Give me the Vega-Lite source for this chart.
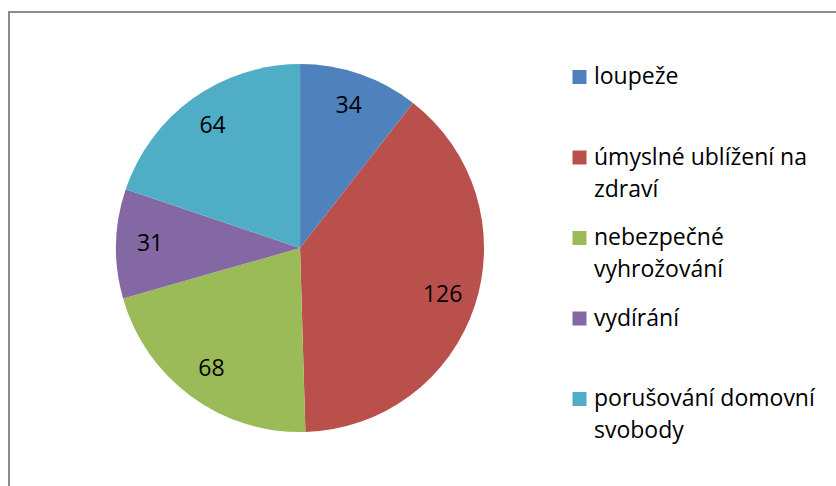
{
  "$schema": "https://vega.github.io/schema/vega-lite/v6.json",
  "width": 832,
  "height": 476,
  "autosize": {"type": "none"},
  "padding": {"left": 9, "top": 12, "right": 0, "bottom": 0},
  "background": "white",
  "config": {
    "view": {"stroke": "#8c8c8c", "strokeWidth": 2},
    "font": "Open Sans"
  },
  "data": {
    "values": [
      {"idx": 1, "cat": "loupeže", "label": "loupeže", "value": 34},
      {"idx": 2, "cat": "úmyslné ublížení na zdraví", "label": "úmyslné ublížení na\nzdraví", "value": 126},
      {"idx": 3, "cat": "nebezpečné vyhrožování", "label": "nebezpečné\nvyhrožování", "value": 68},
      {"idx": 4, "cat": "vydírání", "label": "vydírání", "value": 31},
      {"idx": 5, "cat": "porušování domovní svobody", "label": "porušování domovní\nsvobody", "value": 64}
    ]
  },
  "resolve": {"scale": {"y": "independent"}},
  "layer": [
    {
      "mark": {"type": "arc", "outerRadius": 184, "stroke": null},
      "encoding": {
        "theta": {"field": "value", "type": "quantitative", "stack": true},
        "order": {"field": "idx", "type": "quantitative"},
        "color": {
          "field": "cat", "type": "nominal", "legend": null,
          "scale": {
            "domain": ["loupeže", "úmyslné ublížení na zdraví", "nebezpečné vyhrožování", "vydírání", "porušování domovní svobody"],
            "range": ["#4F81BD", "#BA504C", "#9BBB59", "#8468A4", "#4FADC6"]
          }
        },
        "x": {"datum": 0.3498, "type": "quantitative", "scale": {"domain": [0, 1]}, "axis": null},
        "y": {"datum": 0.504, "type": "quantitative", "scale": {"domain": [0, 1]}, "axis": null}
      }
    },
    {
      "mark": {"type": "text", "radius": 150, "fontSize": 23, "color": "black"},
      "encoding": {
        "theta": {"field": "value", "type": "quantitative", "stack": true},
        "order": {"field": "idx", "type": "quantitative"},
        "text": {"field": "value", "type": "quantitative"},
        "x": {"datum": 0.3498, "type": "quantitative", "scale": {"domain": [0, 1]}, "axis": null},
        "y": {"datum": 0.504, "type": "quantitative", "scale": {"domain": [0, 1]}, "axis": null}
      }
    },
    {
      "mark": {"type": "square", "size": 196, "opacity": 1, "filled": true},
      "encoding": {
        "color": {"field": "cat", "type": "nominal", "legend": null},
        "x": {"datum": 0.6857, "type": "quantitative", "scale": {"domain": [0, 1]}, "axis": null},
        "y": {
          "field": "cat", "type": "nominal", "axis": null, "sort": {"field": "idx"},
          "scale": {"type": "point", "range": [65, 387], "padding": 0}
        }
      }
    },
    {
      "mark": {"type": "text", "align": "left", "baseline": "alphabetic", "dy": 7, "fontSize": 23, "lineBreak": "\n", "lineHeight": 32, "color": "black"},
      "encoding": {
        "text": {"field": "label", "type": "nominal"},
        "x": {"datum": 0.7031, "type": "quantitative", "scale": {"domain": [0, 1]}, "axis": null},
        "y": {
          "field": "cat", "type": "nominal", "axis": null, "sort": {"field": "idx"},
          "scale": {"type": "point", "range": [65, 387], "padding": 0}
        }
      }
    }
  ]
}
